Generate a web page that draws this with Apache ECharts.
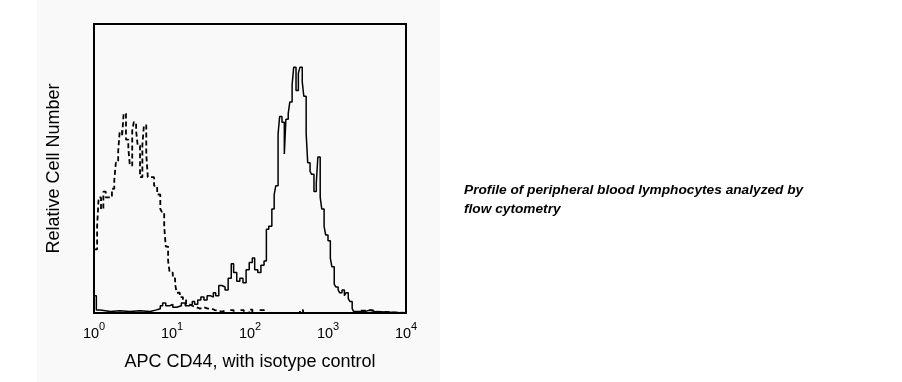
<!DOCTYPE html>
<html>
<head>
<meta charset="utf-8">
<script src="https://cdn.jsdelivr.net/npm/echarts@6/dist/echarts.min.js"></script>
<style>
html,body{margin:0;padding:0;background:#fff;}
#c{width:902px;height:382px;}
</style>
</head>
<body>
<div id="c"></div>
<script>
// x positions are log10 of fluorescence (decades), y are relative cell counts (% of axis height)
const tickExponents = [0, 1, 2, 3, 4];

const cd44Log = [0,0.03,0.08,0.21,0.33,0.46,0.59,0.72,0.79,0.85,0.88,0.92,0.97,1.01,1.06,1.12,1.17,1.22,1.26,1.29,1.33,1.37,1.41,1.45,1.49,1.53,1.56,1.60,1.64,1.68,1.72,1.76,1.79,1.83,1.87,1.91,1.95,1.99,2.03,2.06,2.10,2.14,2.18,2.21,2.24,2.28,2.31,2.33,2.36,2.38,2.41,2.44,2.46,2.49,2.51,2.54,2.56,2.59,2.62,2.64,2.67,2.69,2.72,2.74,2.77,2.79,2.82,2.85,2.87,2.90,2.92,2.95,2.97,3.00,3.03,3.05,3.08,3.10,3.13,3.15,3.18,3.21,3.23,3.26,3.28,3.31,3.33,3.41,3.47,3.54,3.60,4.0];
const cd44Count = [6,1,0.5,0.8,0.5,0.8,0.5,1,1.5,2.5,3.5,2.5,3,2,2.5,3.5,2.5,3,4,3,4.5,5.5,4.5,6,5.5,7,6,9.5,9,8,12,17,14,11,12,10.5,15,17.5,19,15,14,16.5,18,29,30,36,41,44,62,68,66,55,67,69,73,79,85,77,83,85,80,75,62,52,49,48,42,45,54,40,36,30,27,25,19,16,10,9,8,7,8,6,7,5,4,1.5,0.5,0.5,1,0.5,0,0];

const isoLog = [0,0.04,0.06,0.09,0.12,0.15,0.19,0.23,0.26,0.28,0.31,0.33,0.36,0.38,0.41,0.44,0.46,0.49,0.51,0.54,0.56,0.59,0.62,0.64,0.67,0.69,0.73,0.77,0.81,0.85,0.87,0.90,0.92,0.95,0.97,1.01,1.04,1.06,1.10,1.14,1.18,1.22,1.26,1.31,1.36,1.41,1.46,1.51,1.55,1.64,1.69,1.74,1.79,1.87,1.92,1.99,2.03,2.13,2.18,2.64,2.68,3.41,3.49,3.56,3.62,4.0];
const isoCount = [22,30,40,36,42,40,40,43,46,52,56,63,61,69,60,57,51,63,66,63,58,47,58,65,55,47,47,44,41,36,35,30,23,18,14,12,10,7,5.5,4.5,3,2.5,2,1.5,2,1.5,1.5,1,0.5,0.8,0,1,0,1,0,1.2,0,1,0,1,0,0.8,1,0.5,0,0];

const xTitle = 'APC CD44, with isotype control';
const yTitle = 'Relative Cell Number';
const captionLines = ['Profile of peripheral blood lymphocytes analyzed by', 'flow cytometry'];

const pairs = (xs, ys) => xs.map((x, i) => [x, ys[i]]);
const FONT = '"Liberation Sans", Arial, sans-serif';

const chart = echarts.init(document.getElementById('c'), null, {renderer: 'canvas'});
chart.setOption({
  animation: false,
  backgroundColor: '#fff',
  graphic: [
    {type: 'rect', z: -10, silent: true, shape: {x: 37, y: 0, width: 403, height: 382}, style: {fill: '#f9f9f9'}},
    {type: 'text', left: 464, top: 183, style: {text: captionLines[0], font: 'italic bold 13.7px ' + FONT, fill: '#000'}},
    {type: 'text', left: 464, top: 202, style: {text: captionLines[1], font: 'italic bold 13.7px ' + FONT, fill: '#000'}}
  ],
  grid: {left: 94, right: 496, top: 24, bottom: 69, show: true, borderColor: '#000', borderWidth: 2, backgroundColor: 'transparent'},
  xAxis: {
    type: 'value', min: 0, max: 4, interval: 1,
    name: xTitle, nameLocation: 'middle', nameGap: 40,
    nameTextStyle: {fontSize: 18, fontFamily: FONT, color: '#000'},
    axisLine: {show: false}, axisTick: {show: false}, splitLine: {show: false},
    axisLabel: {
      margin: 8,
      formatter: v => '{b|10}{s|' + v + '}',
      rich: {
        b: {fontSize: 14.5, lineHeight: 20, verticalAlign: 'bottom', fontFamily: FONT, color: '#000'},
        s: {fontSize: 11, lineHeight: 11, verticalAlign: 'top', fontFamily: FONT, color: '#000'}
      }
    }
  },
  yAxis: {
    type: 'value', min: 0, max: 100,
    name: yTitle, nameLocation: 'middle', nameGap: 31, nameRotate: 90,
    nameTextStyle: {fontSize: 18, fontFamily: FONT, color: '#000'},
    axisLine: {show: false}, axisTick: {show: false}, splitLine: {show: false}, axisLabel: {show: false}
  },
  series: [
    {type: 'line', name: 'isotype', step: 'end', symbol: 'none', data: pairs(isoLog, isoCount),
     lineStyle: {color: '#000', width: 1.8, type: [5, 3]}},
    {type: 'line', name: 'CD44', step: 'end', symbol: 'none', data: pairs(cd44Log, cd44Count),
     lineStyle: {color: '#000', width: 1.5}}
  ]
});
</script>
</body>
</html>
